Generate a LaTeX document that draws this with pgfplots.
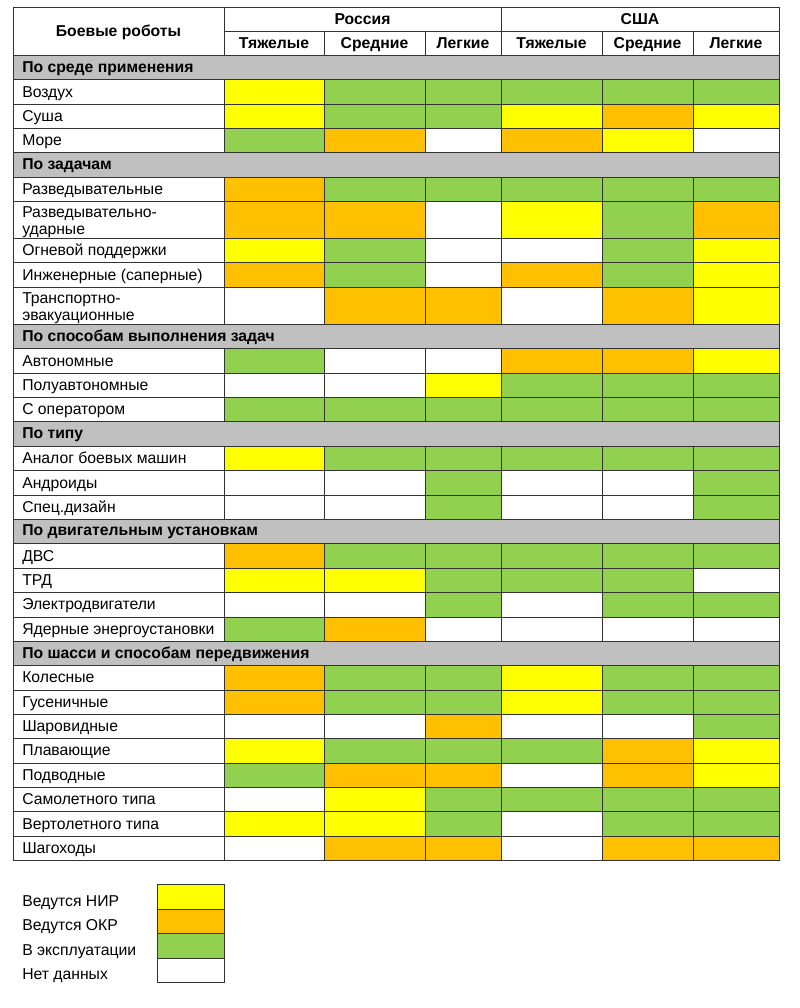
\documentclass[border=0pt]{standalone}
\usepackage{fontspec}
\setmainfont{Liberation Sans}
\usepackage{pgfplots}
\pgfplotsset{compat=1.18}
\definecolor{cY}{HTML}{FFFF00}
\definecolor{cO}{HTML}{FFC000}
\definecolor{cG}{HTML}{92D050}
\definecolor{cW}{HTML}{FFFFFF}
\definecolor{cS}{HTML}{C0C0C0}
\definecolor{lineC}{HTML}{333333}
% column edges: 13, 224, 324, 425, 501, 602, 693, 779
\newcommand{\cellbox}[5]{%
  \addplot[fill=#5, draw=lineC, line width=0.75pt, mark=none] coordinates {(#1,#3) (#2,#3) (#2,#4) (#1,#4)} -- cycle;}
\newcommand{\drow}[9]{%
  \cellbox{13}{224}{#1}{#2}{cW}
  \cellbox{224}{324}{#1}{#2}{#4}
  \cellbox{324}{425}{#1}{#2}{#5}
  \cellbox{425}{501}{#1}{#2}{#6}
  \cellbox{501}{602}{#1}{#2}{#7}
  \cellbox{602}{693}{#1}{#2}{#8}
  \cellbox{693}{779}{#1}{#2}{#9}
  \node[anchor=base west, inner sep=0pt] at (axis cs:22,{(#1+#2)/2+5.5}) {#3};}
\newcommand{\srow}[3]{%
  \cellbox{13}{779}{#1}{#2}{cS}
  \node[anchor=base west, inner sep=0pt, font=\bfseries] at (axis cs:22,{(#1+#2)/2+5}) {#3};}
\newcommand{\lab}[2]{\node[anchor=base west, inner sep=0pt] at (axis cs:22,#1) {#2};}
\newcommand{\hlab}[3]{\node[anchor=base, inner sep=0pt, font=\bfseries] at (axis cs:#1,#2) {#3};}
\begin{document}
\fontsize{11.8}{12.75}\selectfont
\begin{tikzpicture}
\begin{axis}[
  scale only axis, width=600pt, height=756pt,
  xmin=0, xmax=800, ymin=0, ymax=1008, y dir=reverse,
  hide axis, clip=false,
]
\draw[draw=none] (rel axis cs:0,0) rectangle (rel axis cs:1,1);
% header
\cellbox{13}{224}{7}{55}{cW}
\cellbox{224}{501}{7}{31}{cW}
\cellbox{501}{779}{7}{31}{cW}
\cellbox{224}{324}{31}{55}{cW}
\cellbox{324}{425}{31}{55}{cW}
\cellbox{425}{501}{31}{55}{cW}
\cellbox{501}{602}{31}{55}{cW}
\cellbox{602}{693}{31}{55}{cW}
\cellbox{693}{779}{31}{55}{cW}
\hlab{118.5}{36}{Боевые роботы}
\hlab{362.5}{24.5}{Россия}
\hlab{640}{24.5}{США}
\hlab{274}{48.5}{Тяжелые}
\hlab{374.5}{48.5}{Средние}
\hlab{463}{48.5}{Легкие}
\hlab{551.5}{48.5}{Тяжелые}
\hlab{647.5}{48.5}{Средние}
\hlab{736}{48.5}{Легкие}
% body
\srow{55}{79}{По среде применения}
\drow{79}{104}{Воздух}{cY}{cG}{cG}{cG}{cG}{cG}
\drow{104}{128}{Суша}{cY}{cG}{cG}{cY}{cO}{cY}
\drow{128}{152}{Море}{cG}{cO}{cW}{cO}{cY}{cW}
\srow{152}{177}{По задачам}
\drow{177}{201}{Разведывательные}{cO}{cG}{cG}{cG}{cG}{cG}
\drow{201}{238}{}{cO}{cO}{cW}{cY}{cG}{cO}
\lab{217}{Разведывательно-}
\lab{234}{ударные}
\drow{238}{262}{Огневой поддержки}{cY}{cG}{cW}{cW}{cG}{cY}
\drow{262}{287}{Инженерные (саперные)}{cO}{cG}{cW}{cO}{cG}{cY}
\drow{287}{324}{}{cW}{cO}{cO}{cW}{cO}{cY}
\lab{303}{Транспортно-}
\lab{320}{эвакуационные}
\srow{324}{348}{По способам выполнения задач}
\drow{348}{373}{Автономные}{cG}{cW}{cW}{cO}{cO}{cY}
\drow{373}{397}{Полуавтономные}{cW}{cW}{cY}{cG}{cG}{cG}
\drow{397}{421}{С оператором}{cG}{cG}{cG}{cG}{cG}{cG}
\srow{421}{446}{По типу}
\drow{446}{470}{Аналог боевых машин}{cY}{cG}{cG}{cG}{cG}{cG}
\drow{470}{495}{Андроиды}{cW}{cW}{cG}{cW}{cW}{cG}
\drow{495}{519}{Спец.дизайн}{cW}{cW}{cG}{cW}{cW}{cG}
\srow{519}{543}{По двигательным установкам}
\drow{543}{568}{ДВС}{cO}{cG}{cG}{cG}{cG}{cG}
\drow{568}{592}{ТРД}{cY}{cY}{cG}{cG}{cG}{cW}
\drow{592}{617}{Электродвигатели}{cW}{cW}{cG}{cW}{cG}{cG}
\drow{617}{641}{Ядерные энергоустановки}{cG}{cO}{cW}{cW}{cW}{cW}
\srow{641}{665}{По шасси и способам передвижения}
\drow{665}{690}{Колесные}{cO}{cG}{cG}{cY}{cG}{cG}
\drow{690}{714}{Гусеничные}{cO}{cG}{cG}{cY}{cG}{cG}
\drow{714}{738}{Шаровидные}{cW}{cW}{cO}{cW}{cW}{cG}
\drow{738}{763}{Плавающие}{cY}{cG}{cG}{cG}{cO}{cY}
\drow{763}{787}{Подводные}{cG}{cO}{cO}{cW}{cO}{cY}
\drow{787}{811}{Самолетного типа}{cW}{cY}{cG}{cG}{cG}{cG}
\drow{811}{836}{Вертолетного типа}{cY}{cY}{cG}{cW}{cG}{cG}
\drow{836}{860}{Шагоходы}{cW}{cO}{cO}{cW}{cO}{cO}
% legend
\cellbox{157}{224}{884}{909}{cY}
\cellbox{157}{224}{909}{933}{cO}
\cellbox{157}{224}{933}{958}{cG}
\cellbox{157}{224}{958}{982}{cW}
\lab{906}{Ведутся НИР}
\lab{930.5}{Ведутся ОКР}
\lab{955}{В эксплуатации}
\lab{979}{Нет данных}
\end{axis}
\end{tikzpicture}
\end{document}
